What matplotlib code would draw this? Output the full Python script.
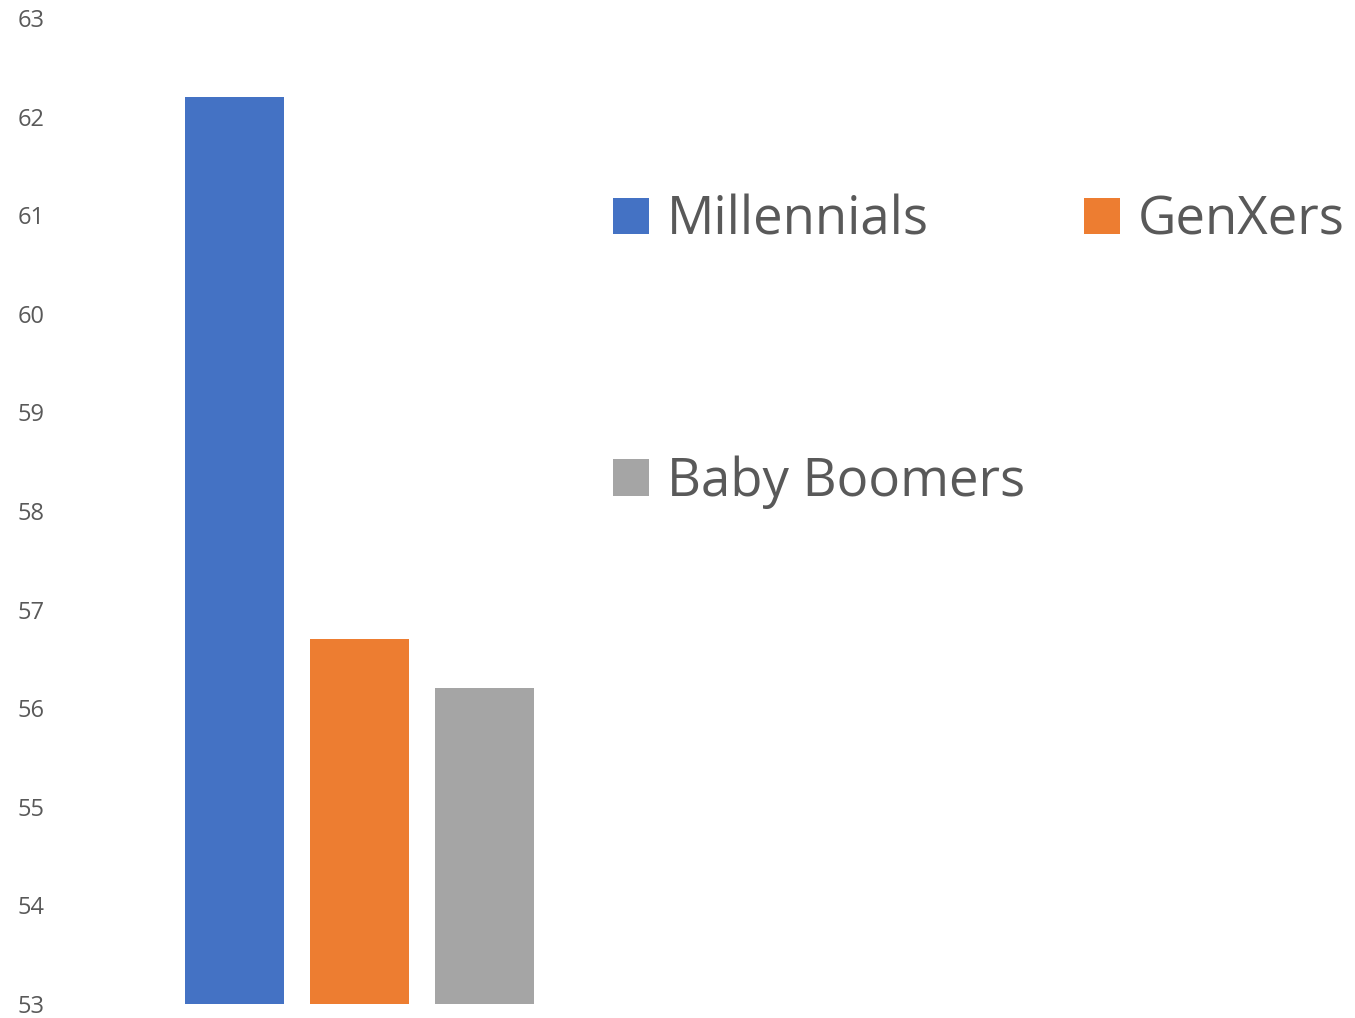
import matplotlib.pyplot as plt
from matplotlib.patches import Patch

generations = ["Millennials", "GenXers", "Baby Boomers"]
values = [62.2, 56.7, 56.2]
colors = ["#4472C4", "#ED7D31", "#A5A5A5"]
y_ticks = list(range(53, 64))

plt.rcParams['font.family'] = ['Open Sans', 'DejaVu Sans']

fig = plt.figure(figsize=(13.55, 10.18), dpi=100)
ax = fig.add_axes([60 / 1355, 14 / 1018, 1295 / 1355, 986 / 1018])

x = list(range(len(generations)))
ax.bar(x, values, width=0.792, color=colors)

ax.set_ylim(53, 63)
ax.set_xlim(-1.392, 8.968)
ax.set_yticks(y_ticks)
ax.set_yticklabels([str(t) for t in y_ticks], fontsize=17, color="#595959")
ax.tick_params(axis="y", length=0, pad=11)
ax.set_xticks([])
for s in ax.spines.values():
    s.set_visible(False)

# legend fills column-wise, so order so rows read Millennials, GenXers / Baby Boomers
order = [0, 2, 1]
handles = [Patch(facecolor=colors[i], edgecolor="none") for i in order]
labels = [generations[i] for i in order]
fig.legend(handles, labels, loc="upper left",
           bbox_to_anchor=(613 / 1355, 1 - 194 / 1018),
           ncol=2, frameon=False, fontsize=38, labelcolor="#595959",
           handlelength=0.68, handleheight=0.68, handletextpad=0.34,
           columnspacing=1.12, labelspacing=3.94, borderpad=0, borderaxespad=0)

fig.savefig("out.png", dpi=100)
